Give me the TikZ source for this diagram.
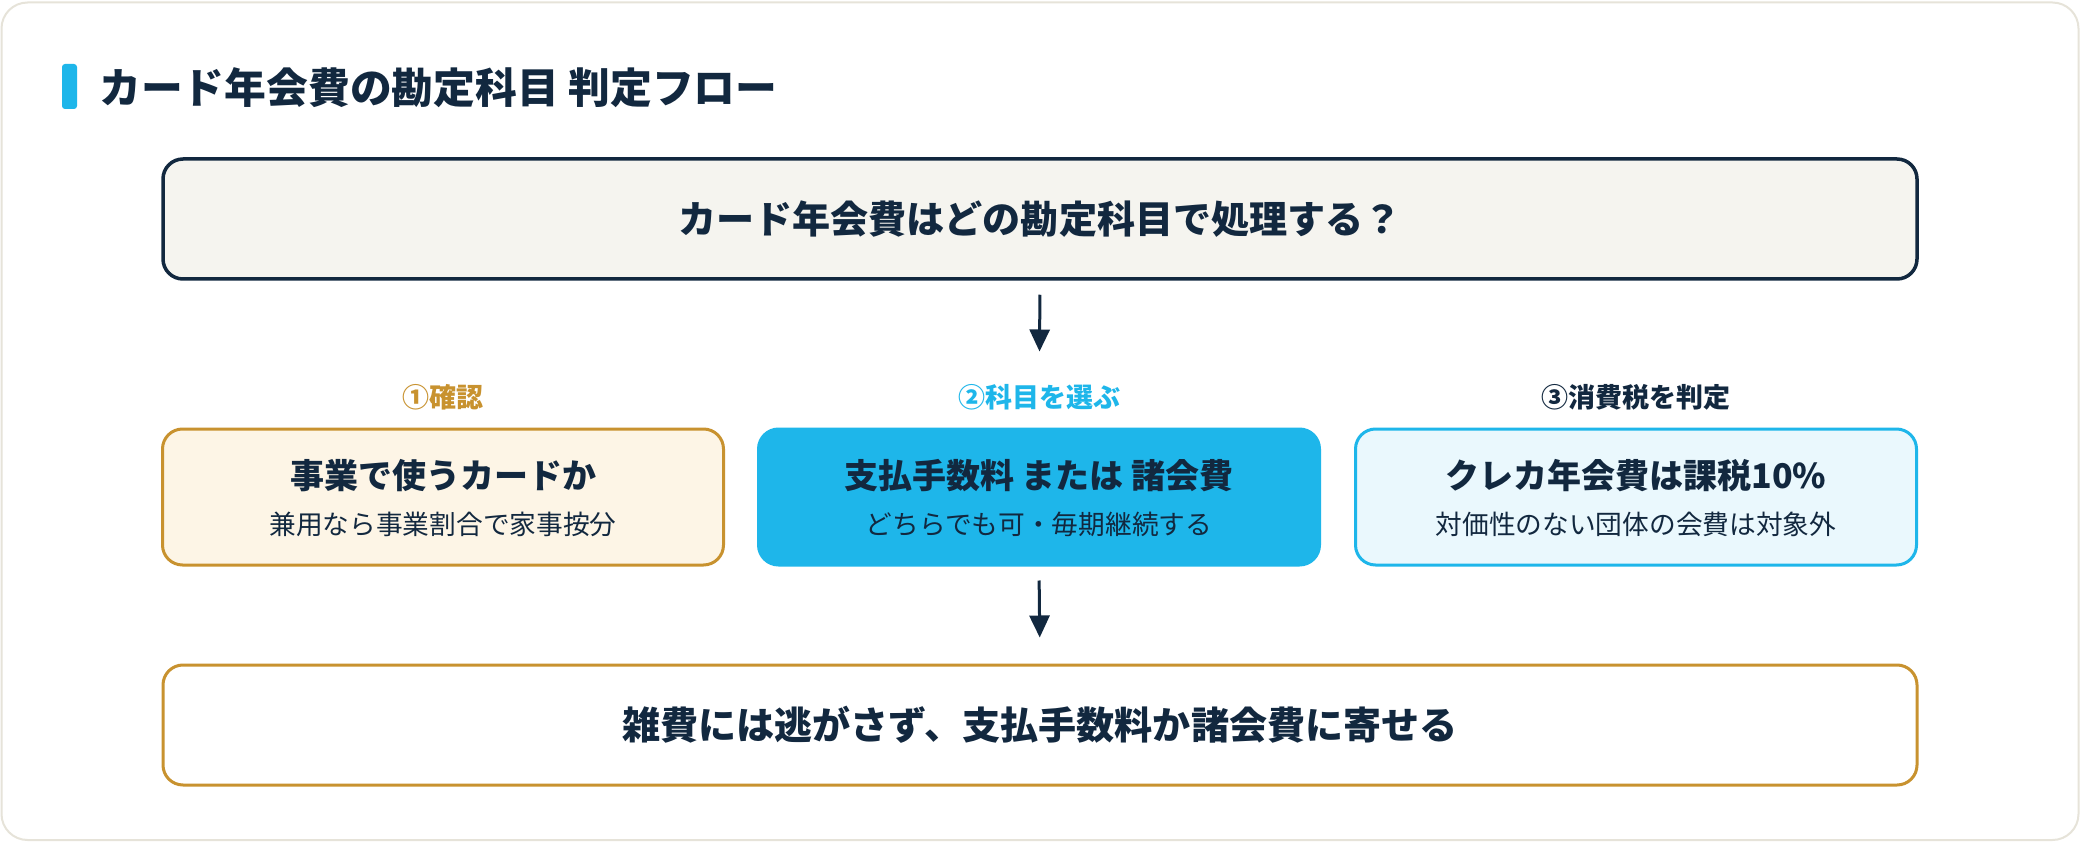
\documentclass[tikz,border=0pt]{standalone}
\usepackage{fontspec}
\setmainfont{Noto Sans CJK JP}
\usetikzlibrary{arrows.meta}
\definecolor{navy}{HTML}{12283F}
\definecolor{gold}{HTML}{C8922F}
\definecolor{skyb}{HTML}{1EB6EA}
\definecolor{cream}{HTML}{FDF5E6}
\definecolor{icef}{HTML}{EAF8FD}
\definecolor{qfill}{HTML}{F5F4EF}
\definecolor{cardline}{HTML}{E6E3D9}
\tikzset{
  wide/.style={rectangle, rounded corners=20pt, minimum width=1754pt, minimum height=120pt, inner sep=0pt},
  stepbox/.style={rectangle, rounded corners=20pt, minimum width=561pt, minimum height=136pt, inner sep=0pt, line width=3pt},
  ttl/.style={text=navy, font=\bfseries\fontsize{34}{40}\selectfont, inner sep=0pt},
  sub/.style={text=navy, font=\fontsize{26.7}{31}\selectfont, inner sep=0pt},
  lbl/.style={font=\bfseries\fontsize{27}{32}\selectfont, inner sep=0pt},
  big/.style={text=navy, font=\bfseries\fontsize{38.1}{44}\selectfont, inner sep=0pt},
  arr/.style={draw=navy, line width=3pt, -{Triangle[length=22pt,width=20pt]}}
}
\begin{document}
\begin{tikzpicture}[x=1pt,y=-1pt]
\useasboundingbox (0,0) rectangle (2080,842);
\draw[fill=white, draw=cardline, line width=2pt, rounded corners=26pt] (1.5,2.5) rectangle (2078.5,840);
% heading
\node[fill=skyb, rounded corners=3pt, minimum width=15pt, minimum height=45pt, inner sep=0pt] (bar) at (69.5,86.5) {};
\node[anchor=west, text=navy, font=\bfseries\fontsize{41.8}{48}\selectfont, inner sep=0pt] (head) at (99,88) {カード年会費の勘定科目 判定フロー};
% question
\node[wide, draw=navy, fill=qfill, line width=3.5pt] (q) at (1040,219) {};
\node[big] (qt) at (q.center) {カード年会費はどの勘定科目で処理する？};
% step labels
\node[lbl, text=gold] (l1) at (443,397) {①確認};
\node[lbl, text=skyb] (l2) at (1039,397) {②科目を選ぶ};
\node[lbl, text=navy] (l3) at (1636,397) {③消費税を判定};
% step boxes
\node[stepbox, draw=gold, fill=cream] (b1) at (443,497) {};
\node[stepbox, draw=skyb, fill=skyb] (b2) at (1039,497) {};
\node[stepbox, draw=skyb, fill=icef] (b3) at (1636,497) {};
\node[ttl] (t1) at ([yshift=21pt]b1.center) {事業で使うカードか};
\node[sub] (s1) at ([yshift=-27pt]b1.center) {兼用なら事業割合で家事按分};
\node[ttl] (t2) at ([yshift=21pt]b2.center) {支払手数料 または 諸会費};
\node[sub] (s2) at ([yshift=-27pt]b2.center) {どちらでも可・毎期継続する};
\node[ttl] (t3) at ([yshift=21pt]b3.center) {クレカ年会費は課税10\%};
\node[sub] (s3) at ([yshift=-27pt]b3.center) {対価性のない団体の会費は対象外};
% conclusion
\node[wide, draw=gold, fill=white, line width=3pt] (c) at (1040,725) {};
\node[big] (ct) at (c.center) {雑費には逃がさず、支払手数料か諸会費に寄せる};
% arrows
\draw[arr, shorten <=14pt, shorten >=76pt] (q.south) -- (b2.north);
\draw[arr, shorten <=14pt, shorten >=26pt] (b2.south) -- (c.north);
\end{tikzpicture}
\end{document}
